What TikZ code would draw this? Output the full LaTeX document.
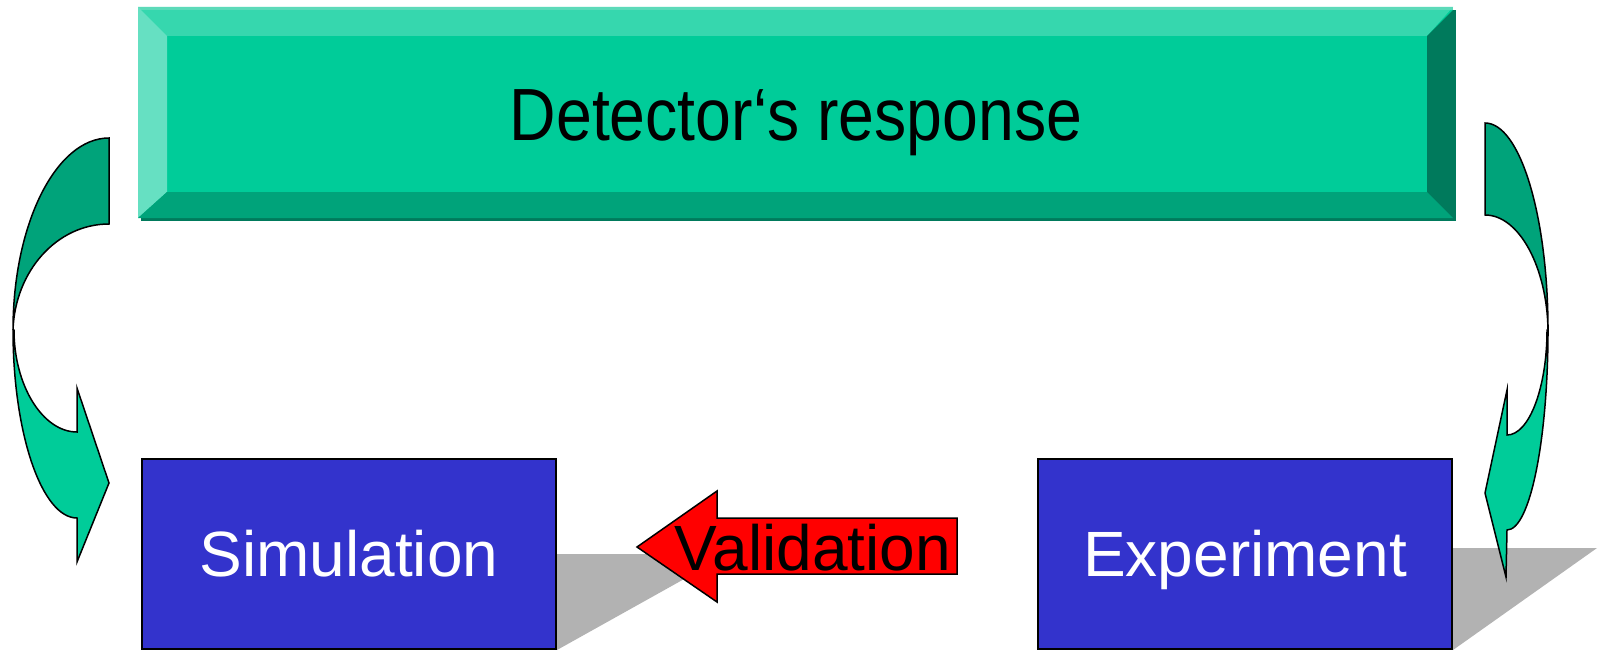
\documentclass[tikz,border=0pt]{standalone}
\usepackage{fontspec}
\setmainfont{Liberation Sans}
\definecolor{tealmain}{HTML}{00CC99}
\definecolor{tealtop}{HTML}{36D7AE}
\definecolor{tealedge}{HTML}{5CDAB9}
\definecolor{tealleft}{HTML}{66E0C2}
\definecolor{tealbottom}{HTML}{00A37A}
\definecolor{tealright}{HTML}{007A5C}
\definecolor{boxblue}{HTML}{3333CC}
\definecolor{shadowgray}{HTML}{B2B2B2}
\begin{document}
\begin{tikzpicture}[x=1bp,y=-1bp,
  bluebox/.style={draw=black,line width=2bp,fill=boxblue,minimum width=414bp,minimum height=190bp,
    inner sep=0pt,text=white,font=\fontsize{64bp}{77bp}\selectfont,text height=45.8bp,text depth=0pt},
  ribbon/.style={draw=black,line width=1.5bp,line join=miter},
  castshadow/.style={fill=shadowgray},
  bigtext/.style={font=\fontsize{64bp}{77bp}\selectfont,inner sep=0pt}]
\useasboundingbox (0,0) rectangle (1604,651);

% shadows of the boxes
\coordinate (s1) at (557,554);
\coordinate (s2) at (729,554);
\coordinate (s3) at (557,650);
\fill[castshadow] (s1) -- (s2) -- (s3) -- cycle;
\coordinate (e1) at (1453,548);
\coordinate (e2) at (1597,548);
\coordinate (e3) at (1453,650);
\fill[castshadow] (e1) -- (e2) -- (e3) -- cycle;

% top bevelled box
\fill[tealright] (141,10) rectangle (1456,221);
\fill[tealmain] (138,7) rectangle (1453,218);
\fill[tealtop] (138,7) -- (1453,7) -- (1427,36) -- (167,36) -- cycle;
\fill[tealedge] (138,7) rectangle (1453,10);
\fill[tealleft] (138,7) -- (167,36) -- (167,192) -- (138,218) -- cycle;
\fill[tealbottom] (138,218) -- (167,192) -- (1427,192) -- (1453,218) -- cycle;
\fill[tealright] (1453,10) -- (1427,36) -- (1427,192) -- (1453,218) -- cycle;
\node[bigtext,font=\fontsize{74bp}{88bp}\selectfont,anchor=base] (det) at (796,141)
  {\scalebox{0.87}[1]{Detector‘s response}};

% blue boxes
\node[bluebox] (sim) at (349,554) {Simulation};
\node[bluebox] (exp) at (1245,554) {Experiment};

% left curved arrow
\path[ribbon,fill=tealbottom] (109,224) -- (109,138)
  .. controls (56,138) and (13,224) .. (13,330)
  .. controls (15,271) and (57,224) .. (109,224) -- cycle;
\path[ribbon,fill=tealmain] (14,330)
  .. controls (14,386) and (43,432) .. (77,432)
  -- (77,388) -- (109,483) -- (77,562) -- (77,518)
  .. controls (42,518) and (13,434) .. (13,330) -- cycle;

% right curved arrow
\path[ribbon,fill=tealbottom] (1485,215) -- (1485,123)
  .. controls (1520,123) and (1548,216) .. (1548,330)
  .. controls (1547,267) and (1519,215) .. (1485,215) -- cycle;
\path[ribbon,fill=tealmain] (1547,330)
  .. controls (1547,388) and (1529,435) .. (1507,435)
  -- (1507,390) -- (1485,493) -- (1506,577) -- (1507,530)
  .. controls (1530,530) and (1548,440) .. (1548,330) -- cycle;

% validation arrow
\path[ribbon,fill=red] (637,547) -- (717,491) -- (717,518) -- (957,518)
  -- (957,574) -- (717,574) -- (717,602) -- cycle;
\node[bigtext,anchor=base] (val) at (813,570) {Validation};
\end{tikzpicture}
\end{document}
